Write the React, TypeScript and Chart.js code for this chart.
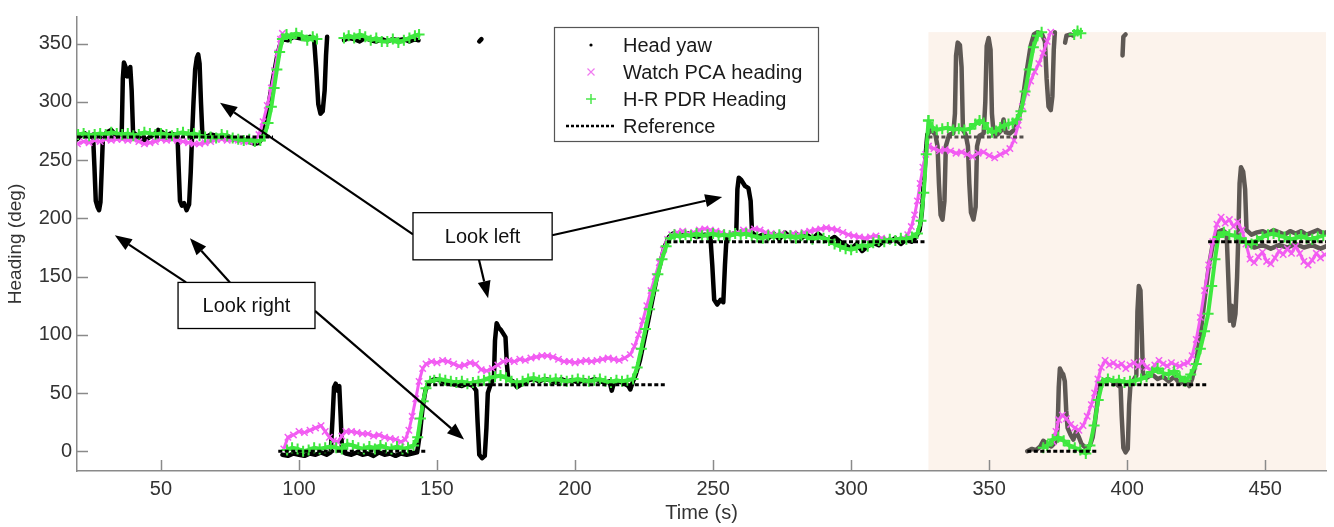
import React, { useEffect, useRef } from "react";
import { Chart, registerables } from "chart.js";

Chart.register(...registerables);

type P = [number, number];

// ---------- axes ----------
const X_MIN = 19.6;
const X_MAX = 472;
const Y_MIN = -17;
const Y_MAX = 373;
const xTickValues = [50, 100, 150, 200, 250, 300, 350, 400, 450];
const yTickValues = [0, 50, 100, 150, 200, 250, 300, 350];
const shadeStart = 328; // s
const shadeTop = 360; // deg

// ---------- Head yaw (black, before shaded part) ----------
const headYawA: P[] = [[19.6,268],[21,271],[22.5,273],[24,270],[25.4,272],[25.9,245],[26.4,215],[27,210],[27.6,207],[28.1,214],[28.6,245],[29,271],[30.5,274],[32,276],[33.5,272],[35,271],[35.8,274],[36.2,320],[36.6,334],[37.2,330],[37.8,322],[38.4,328],[38.9,330],[39.4,310],[39.9,274],[41.5,271],[43,268],[44.5,267],[46,270],[47.5,272],[49,276],[50.5,274],[52,271],[53.5,273],[55,272],[56,271],[56.4,245],[56.9,215],[57.6,211],[58.4,213],[59.3,207],[60.2,212],[60.8,240],[61.3,272],[61.8,300],[62.4,328],[63,338],[63.5,341],[64,333],[64.5,300],[65,273],[66.5,270],[68,272],[70,271],[72,270],[74,271],[76,268],[78,267],[80,268],[82,266],[84,264],[85.5,265],[87,270],[88,282],[89,298],[90,312],[91,325],[92,338],[93,348],[94,354],[96,353],[98,356],[100,355],[102,354],[104,356],[105.5,353],[106.2,330],[107,298],[107.8,290],[108.6,292],[109.3,310],[109.8,340],[110.2,356]];
const headYawB: P[] = [[116.3,353],[118,355],[120,354],[122,352],[124,355],[126,353],[128,352],[130,354],[132,352],[134,354],[136,353],[138,354],[140,352],[142,354],[143.3,353]];
const headYawBlip: P[] = [[165.3,352],[166.1,354]];
const headYawC: P[] = [[94,-3],[96,-4],[98,-2],[100,-3],[102,-4],[104,-2],[106,-3],[108,-1],[110,-3],[111.5,-1],[112.2,30],[112.7,55],[113.3,58],[114,52],[114.6,56],[115.1,30],[115.6,0],[117,-2],[119,-3],[121,-1],[123,-3],[125,-2],[127,-4],[129,-1],[131,-3],[133,-2],[135,-4],[137,-2],[139,-3],[141,-2],[142.8,-1],[143.8,15],[144.8,38],[145.8,52],[147,59],[149,62],[151,61],[153,59],[155,58],[157,57],[159,56],[161,58],[163,56],[164.2,52],[164.7,25],[165.3,-3],[166.3,-6],[167.3,-4],[167.9,20],[168.4,50],[169.5,58],[170.6,62],[171,95],[171.6,110],[172.4,106],[173.2,104],[174,101],[174.8,98],[175.3,75],[175.8,62],[177.5,60],[179,55],[181,58],[183,61],[185,62],[187,60],[189,62],[191,61],[193,59],[195,62],[197,60],[199,61],[201,59],[203,61],[205,60],[207,62],[209,60],[211,59],[212.5,60],[213.3,52],[214,58],[216,60],[218,58],[219.3,56],[220,53],[221,60],[222,66],[223.5,78],[225,95],[226.5,112],[228,130],[229.5,148],[231,163],[232.5,176],[234,184],[235.5,187],[238,185],[241,187],[244,184],[247,186],[249,185],[249.7,160],[250.4,130],[251.5,126],[252.7,130],[253.7,128],[254.3,160],[254.9,185],[256.5,186],[258.4,188],[258.8,225],[259.3,235],[260.2,233],[261.5,228],[262.8,226],[263.6,215],[264.1,188],[266,184],[268,186],[270,183],[272,187],[274,182],[276,188],[278,184],[280,187],[282,183],[284,186],[286,182],[288,187],[290,183],[292,181],[294,184],[296,180],[298,177],[300,174],[302,178],[304,172],[306,176],[308,179],[310,177],[312,181],[314,180],[316,183],[318,178],[320,182],[322,180],[323.5,184],[324.8,190],[325.6,205],[326.3,230],[327,255],[327.6,272]];

// ---------- Head yaw (grey, shaded part) ----------
const headYawD: P[] = [[327.6,272],[329,276],[330.5,272],[331.3,262],[331.8,230],[332.4,203],[333.1,199],[333.8,215],[334.3,262],[335.5,272],[337,273],[337.6,290],[338,340],[338.6,351],[339.4,349],[340,330],[340.5,276],[341.5,272],[342.3,262],[342.8,230],[343.4,205],[344.3,199],[345.1,210],[345.6,262],[346.5,271],[348,273],[348.6,300],[349.1,348],[349.8,355],[350.5,345],[351,290],[351.6,273],[353,272],[354.5,276],[355.2,285],[356,274],[357.5,273],[359,276],[360.5,283],[362,300],[363.5,325],[365,348],[366.2,358],[367.5,360],[369,359],[370.2,352],[370.8,320],[371.5,296],[372.3,293],[372.9,305],[373.4,345],[373.8,360]];
const headYawE1: P[] = [[377.5,351],[378,357],[379.5,358],[380.5,357]];
const headYawE2: P[] = [[398.3,340],[398.6,356],[399.4,358]];
const headYawF: P[] = [[363.8,0],[365.5,2],[367,1],[368.5,4],[369.6,9],[371,6],[372.5,4],[374,8],[374.8,20],[375.2,55],[375.6,71],[376.2,68],[376.8,66],[377.4,60],[377.9,35],[378.4,20],[379.5,14],[380.5,10],[381.5,17],[382.5,12],[383.5,6],[385,3],[386.5,5],[387.5,12],[388.3,25],[389.2,42],[390,54],[391,60],[393,62],[395,60],[396.5,57],[397.6,55],[398,30],[398.6,3],[399.4,-1],[400.2,2],[400.7,40],[401.2,58],[402.5,62],[403.3,65],[403.7,120],[404.2,142],[404.8,138],[405.3,100],[405.7,66],[407,63],[409,66],[411,62],[413,64],[415,60],[417,64],[419,58],[421,62],[422.5,56],[423.5,62],[425,78],[426.5,100],[428,130],[429.5,158],[431,178],[432.5,188],[434.5,190],[436,187],[436.6,150],[437.2,112],[437.8,125],[438.5,108],[439.2,118],[439.8,150],[440.3,190],[440.7,230],[441.2,244],[442,240],[442.7,225],[443.2,190],[445,186],[447,188],[449,189],[451,187],[453,190],[455,188],[457,186],[459,189],[461,187],[463,189],[465,186],[467,188],[469,190],[471,187],[472,188]];
const headYawG: P[] = [[443.5,178],[446,175],[449,177],[452,174],[455,177],[458,175],[461,178],[464,175],[467,177],[470,174],[472,176]];

// ---------- Watch PCA heading (magenta) ----------
const pcaA: P[] = [[19.8,264],[22,266],[24,265],[26,267],[28,266],[30,268],[32,267],[34,268],[36,268],[38,267],[40,268],[42,266],[44,264],[46,265],[48,266],[50,268],[52,267],[54,268],[56,267],[58,266],[60,265],[62,264],[64,264],[66,265],[68,266],[70,268],[72,268],[74,267],[76,268],[78,267],[80,266],[82,266],[84,267],[85.5,272],[87,283],[88.5,297],[90,312],[91.2,327],[92.3,342],[93.3,354],[94,359]];
const pcaB: P[] = [[94.5,2],[96,12],[98,14],[100,17],[102,16],[104,18],[106,20],[108,22],[109.5,17],[111,12],[112.5,9],[114,8],[115.5,13],[117,17],[119,17],[121,16],[123,15],[125,15],[127,13],[129,14],[131,12],[133,11],[135,10],[137,8],[138.5,10],[139.8,18],[141,30],[142.3,45],[143.5,60],[144.8,71],[146,75],[148,77],[150,76],[152,78],[154,77],[156,75],[158,73],[160,74],[162,76],[164,75],[166,70],[168,69],[170,71],[172,74],[174,77],[176,78],[178,77],[180,79],[182,78],[184,80],[186,81],[188,82],[190,82],[192,81],[194,79],[196,77],[198,77],[200,76],[202,77],[204,78],[206,77],[208,78],[210,79],[212,80],[214,79],[216,78],[218,80],[220,83],[221.5,90],[223,100],[224.5,112],[226,125],[227.5,138],[229,150],[230.5,162],[232,173],[233.5,182],[235,186],[237,188],[239,189],[241,187],[243,188],[245,190],[247,191],[249,190],[251,189],[253,188],[255,186],[257,187],[259,188],[261,190],[263,189],[265,191],[267,190],[269,188],[271,187],[273,186],[275,187],[277,185],[279,187],[281,186],[283,188],[285,189],[287,190],[289,191],[291,192],[293,191],[295,190],[297,188],[299,186],[301,185],[303,184],[305,183],[307,184],[309,185],[311,183],[313,182],[315,181],[317,182],[319,183],[320.5,186],[321.8,193],[323,203],[324,215],[325,230],[326,244],[327,255],[328,262]];
const pcaC: P[] = [[328,262],[330,260],[332,258],[334,259],[336,258],[338,256],[340,257],[342,255],[344,253],[346,256],[348,257],[350,254],[352,252],[354,255],[356,257],[357.5,260],[359,267],[360.5,280],[362,296],[363.5,308],[365,318],[366.5,326],[368,333],[369.5,342],[371,352],[372.3,360]];
const pcaD: P[] = [[373.2,8],[374.2,17],[375.2,27],[376.5,31],[378,28],[379.5,23],[381,20],[382.5,18],[384,22],[385.5,30],[387,40],[388.2,50],[389.4,62],[390.6,72],[392,78],[393.5,74],[395,76],[396.5,73],[398,75],[399.5,71],[401,74],[402.5,76],[404,73],[405.5,77],[407,72],[408.5,70],[410,74],[411.5,78],[413,75],[414.5,73],[416,76],[417.5,74],[419,73],[420.5,75],[422,76],[423.5,82],[425,96],[426.5,115],[428,138],[429.5,160],[431,180],[432.5,195],[434,201],[435.5,196],[437,199],[438.5,193],[440,197],[441.5,190],[443,178],[444.5,165],[446,162],[447.5,167],[449,171],[450.5,163],[452,161],[453.5,166],[455,172],[456.5,169],[458,174],[459.5,170],[461,176],[462.5,170],[464,163],[465.5,160],[467,164],[468.5,170],[470,166],[471.5,169]];

// ---------- H-R PDR heading (green) ----------
const pdrA: P[] = [[20,272],[22,273],[24,271],[26,272],[28,273],[30,272],[32,274],[34,273],[36,272],[38,273],[40,271],[42,272],[44,274],[46,273],[48,272],[50,273],[52,272],[54,271],[56,273],[58,274],[60,272],[62,273],[64,271],[66,270],[68,270],[70,269],[72,272],[74,271],[76,269],[78,268],[80,267],[82,268],[84,266],[86,267],[87.5,271],[88.8,282],[90,296],[91,312],[92,328],[93,343],[94,354],[95.5,358],[97,355],[99,359],[101,357],[103,353],[105,356],[106.5,354]];
const pdrB: P[] = [[116.3,355],[118,357],[120,355],[122,358],[124,356],[126,353],[128,355],[130,352],[132,352],[134,354],[136,351],[138,353],[140,355],[142,357],[143.5,358]];
const pdrC: P[] = [[95.7,1],[97.5,3],[99.5,2],[101.5,0],[103.5,1],[105.5,3],[107.5,2],[109.5,3],[111.5,4],[113.5,3],[115.5,2],[117.5,6],[119.5,5],[121.5,3],[123.5,2],[125.5,4],[127.5,2],[129.5,5],[131.5,3],[133.5,2],[135.5,4],[137.5,2],[139.5,3],[141.5,5],[143,12],[144,28],[145,43],[146,54],[147.5,60],[149,61],[151,62],[153,61],[155,60],[157,59],[159,60],[161,58],[163,59],[165,60],[167,61],[169,63],[171,64],[173,65],[175,63],[177,60],[179,58],[181,60],[183,62],[185,63],[187,61],[189,62],[191,61],[193,62],[195,61],[197,60],[199,61],[201,62],[203,61],[205,60],[207,61],[209,62],[211,60],[213,59],[215,61],[217,60],[219,61],[221,62],[222.5,72],[224,88],[225.5,105],[227,122],[228.5,138],[230,152],[231.5,165],[233,176],[234.5,183],[236,186],[238,184],[240,186],[242,185],[244,187],[246,185],[248,186],[250,187],[252,185],[254,186],[256,185],[258,187],[260,186],[262,187],[264,185],[266,184],[268,183],[270,185],[272,184],[274,186],[276,184],[278,185],[280,183],[282,185],[284,184],[286,182],[288,184],[290,183],[292,181],[294,178],[296,176],[298,174],[300,173],[302,175],[304,177],[306,176],[308,179],[310,181],[312,180],[314,182],[316,181],[318,183],[320,182],[322,184],[324,187],[325.3,198],[326.3,222],[327.2,255],[328,284]];
const pdrD: P[] = [[328,284],[329.5,278],[331,276],[333,277],[335,278],[337,276],[339,277],[341,276],[343,277],[345,281],[346.5,284],[348,282],[349.5,277],[351,274],[352.5,275],[354,278],[355.5,280],[357,281],[358.5,282],[360,285],[361.5,292],[363,309],[364.5,328],[366,347],[367.5,357],[369,360]];
const pdrE: P[] = [[380.8,358],[382,361],[383.2,359]];
const pdrF: P[] = [[369.6,3],[371,5],[373,10],[375,12],[377,9],[379,5],[381,3],[383,1],[385,-2],[386.5,5],[388,22],[389.5,44],[391,59],[393,62],[395,60],[397,61],[399,59],[401,60],[403,61],[405,62],[407,64],[409,68],[411,71],[413,67],[415,66],[417,69],[419,64],[421,60],[423,66],[425,75],[426.5,88],[428,103],[429.3,118],[430.6,142],[431.8,165],[433,184],[435,188],[437,186],[439,185],[441,183],[443,179],[445,178],[447,181],[449,184],[451,186],[453,187],[455,185],[457,184],[459,182],[461,183],[463,185],[465,183],[467,182],[469,184],[471,185]];

// ---------- Reference (dashed) ----------
const ref1: P[] = [[19.6,270],[90.6,270]];
const ref2: P[] = [[92.5,0],[145.8,0]];
const ref3: P[] = [[146.3,57],[232.5,57]];
const ref4: P[] = [[233.3,180],[326.8,180]];
const ref5: P[] = [[328,270],[362.5,270]];
const ref6: P[] = [[363.8,0],[389,0]];
const ref7: P[] = [[389.5,57],[429,57]];
const ref8: P[] = [[429.3,180],[472,180]];

// ---------- annotations (data coordinates) ----------
const lookLeftBox = { t0: 141.3, t1: 191.7, v0: 164.4, v1: 204.9, label: "Look left" };
const lookRightBox = { t0: 56.2, t1: 105.8, v0: 105.4, v1: 145.0, label: "Look right" };
const arrows: [number, number, number, number][] = [
  [141.3, 186.3, 71.4, 299.3],
  [191.7, 185.5, 253.3, 218.4],
  [165.2, 164.4, 168.5, 131.5],
  [59.1, 145.0, 33.3, 185.5],
  [75.0, 145.0, 60.5, 183.0],
  [105.8, 120.6, 159.8, 10.1],
];

const FONT = '"Liberation Sans", Arial, Helvetica, sans-serif';
const BLACK = "#000000";
const GREY_YAW = "#5e5854";
const MAGENTA = "#f25cf2";
const GREEN = "#3fe83f";

const toXY = (pts: P[]) => pts.map(([x, y]) => ({ x, y }));

const refStyle = (color: string) => ({
  borderColor: color, borderWidth: 3, borderDash: [4, 2.5], pointRadius: 0, showLine: true, tension: 0,
});
const pdrStyle = {
  borderColor: GREEN, borderWidth: 4, showLine: true, tension: 0, borderJoinStyle: "round",
  pointStyle: "cross", pointRadius: 5.5, pointBorderWidth: 2, pointBorderColor: GREEN, pointBackgroundColor: GREEN,
};
const pcaStyle = {
  borderColor: MAGENTA, borderWidth: 3, showLine: true, tension: 0, borderJoinStyle: "round",
  pointStyle: "crossRot", pointRadius: 4.5, pointBorderWidth: 1.5, pointBorderColor: MAGENTA, pointBackgroundColor: MAGENTA,
};
const yawStyle = (color: string) => ({
  borderColor: color, borderWidth: 4.5, pointRadius: 0, showLine: true, tension: 0,
  borderJoinStyle: "round", borderCapStyle: "round",
});

const shadePlugin = {
  id: "shade",
  beforeDatasetsDraw(chart: any) {
    const { ctx, chartArea, scales } = chart;
    const x = scales.x, y = scales.y;
    const left = x.getPixelForValue(shadeStart);
    const top = y.getPixelForValue(shadeTop);
    ctx.save();
    ctx.fillStyle = "#fcf3ec";
    ctx.fillRect(left, top, chartArea.right - left, chartArea.bottom - 1 - top);
    // inward tick marks
    ctx.strokeStyle = "#8a8a8a";
    ctx.lineWidth = 1.5;
    ctx.beginPath();
    xTickValues.forEach((v) => {
      const px = Math.round(x.getPixelForValue(v)) + 0.5;
      ctx.moveTo(px, chartArea.bottom);
      ctx.lineTo(px, chartArea.bottom - 11);
    });
    yTickValues.forEach((v) => {
      const py = Math.round(y.getPixelForValue(v)) + 0.5;
      ctx.moveTo(chartArea.left, py);
      ctx.lineTo(chartArea.left + 11, py);
    });
    ctx.stroke();
    ctx.restore();
  },
};

const annotationPlugin = {
  id: "annot",
  afterDatasetsDraw(chart: any) {
    const { ctx, scales } = chart;
    const x = scales.x, y = scales.y;
    ctx.save();
    ctx.strokeStyle = "#000";
    ctx.fillStyle = "#000";
    ctx.lineWidth = 2.2;
    arrows.forEach(([t0, v0, t1, v1]) => {
      const x0 = x.getPixelForValue(t0), y0 = y.getPixelForValue(v0);
      const x1 = x.getPixelForValue(t1), y1 = y.getPixelForValue(v1);
      const ang = Math.atan2(y1 - y0, x1 - x0);
      const L = 17, W = 6.5;
      const bx = x1 - L * Math.cos(ang), by = y1 - L * Math.sin(ang);
      ctx.beginPath();
      ctx.moveTo(x0, y0);
      ctx.lineTo(bx, by);
      ctx.stroke();
      ctx.beginPath();
      ctx.moveTo(x1, y1);
      ctx.lineTo(bx + W * Math.sin(ang), by - W * Math.cos(ang));
      ctx.lineTo(bx - W * Math.sin(ang), by + W * Math.cos(ang));
      ctx.closePath();
      ctx.fill();
    });
    [lookLeftBox, lookRightBox].forEach((b) => {
      const l = x.getPixelForValue(b.t0), r = x.getPixelForValue(b.t1);
      const t = y.getPixelForValue(b.v1), bt = y.getPixelForValue(b.v0);
      ctx.fillStyle = "#fff";
      ctx.fillRect(l, t, r - l, bt - t);
      ctx.strokeStyle = "#000";
      ctx.lineWidth = 1.3;
      ctx.strokeRect(l, t, r - l, bt - t);
      ctx.fillStyle = "#111";
      ctx.font = `20px ${FONT}`;
      ctx.textAlign = "center";
      ctx.textBaseline = "middle";
      ctx.fillText(b.label, (l + r) / 2, (t + bt) / 2 + 1);
    });
    ctx.restore();
  },
};

const legendPlugin = {
  id: "customLegend",
  afterDraw(chart: any) {
    const { ctx } = chart;
    const bx = 554, by = 27, bw = 264, bh = 114;
    ctx.save();
    ctx.fillStyle = "#fff";
    ctx.fillRect(bx, by, bw, bh);
    ctx.strokeStyle = "#555";
    ctx.lineWidth = 1.2;
    ctx.strokeRect(bx + 0.5, by + 0.5, bw, bh);
    const mx = 591, tx = 623;
    const rows = [45, 72, 99, 126];
    const labels = ["Head yaw", "Watch PCA heading", "H-R PDR Heading", "Reference"];
    ctx.fillStyle = "#000";
    ctx.beginPath();
    ctx.arc(mx, rows[0], 1.6, 0, Math.PI * 2);
    ctx.fill();
    ctx.strokeStyle = "#f07af0";
    ctx.lineWidth = 1.2;
    ctx.beginPath();
    ctx.moveTo(mx - 3.5, rows[1] - 3.5); ctx.lineTo(mx + 3.5, rows[1] + 3.5);
    ctx.moveTo(mx + 3.5, rows[1] - 3.5); ctx.lineTo(mx - 3.5, rows[1] + 3.5);
    ctx.stroke();
    ctx.strokeStyle = "#4be84b";
    ctx.lineWidth = 1.5;
    ctx.beginPath();
    ctx.moveTo(mx - 5, rows[2]); ctx.lineTo(mx + 5, rows[2]);
    ctx.moveTo(mx, rows[2] - 5); ctx.lineTo(mx, rows[2] + 5);
    ctx.stroke();
    ctx.strokeStyle = "#000";
    ctx.lineWidth = 2.5;
    ctx.setLineDash([3, 2]);
    ctx.beginPath();
    ctx.moveTo(566, rows[3]); ctx.lineTo(615, rows[3]);
    ctx.stroke();
    ctx.setLineDash([]);
    ctx.fillStyle = "#1a1a1a";
    ctx.font = `20px ${FONT}`;
    ctx.textAlign = "left";
    ctx.textBaseline = "middle";
    labels.forEach((s, i) => ctx.fillText(s, tx, rows[i] + 1));
    ctx.restore();
  },
};

export default function App() {
  const ref = useRef<HTMLCanvasElement | null>(null);
  useEffect(() => {
    if (!ref.current) return;
    const datasets: any[] = [
      ...[ref1, ref2, ref3, ref4, ref6, ref7, ref8].map((s) => ({ data: toXY(s), ...refStyle(BLACK) })),
      { data: toXY(ref5), ...refStyle("#55504c") },
      ...[pdrA, pdrB, pdrC, pdrD, pdrE, pdrF].map((s) => ({ data: toXY(s), ...pdrStyle })),
      ...[pcaA, pcaB, pcaC, pcaD].map((s) => ({ data: toXY(s), ...pcaStyle })),
      ...[headYawA, headYawB, headYawBlip, headYawC].map((s) => ({ data: toXY(s), ...yawStyle(BLACK) })),
      ...[headYawD, headYawE1, headYawE2, headYawF, headYawG].map((s) => ({ data: toXY(s), ...yawStyle(GREY_YAW) })),
    ];
    const chart = new Chart(ref.current, {
      type: "scatter",
      data: { datasets },
      options: {
        animation: false,
        responsive: false,
        devicePixelRatio: 1,
        events: [],
        layout: { padding: { left: 0, right: 8, top: 9, bottom: 0 } },
        plugins: { legend: { display: false }, tooltip: { enabled: false } },
        scales: {
          x: {
            type: "linear",
            min: X_MIN,
            max: X_MAX,
            grid: { display: false, drawTicks: false },
            border: { display: true, color: "#8a8a8a", width: 1.5 },
            ticks: { font: { family: FONT, size: 20 }, color: "#333", padding: 6, maxRotation: 0, autoSkip: false },
            afterBuildTicks: (s: any) => { s.ticks = xTickValues.map((value) => ({ value })); },
            afterFit: (s: any) => { s.height = 56; },
            title: { display: true, text: "Time (s)", font: { family: FONT, size: 20 }, color: "#333", padding: { top: 0, bottom: 2 } },
          },
          y: {
            type: "linear",
            min: Y_MIN,
            max: Y_MAX,
            grid: { display: false, drawTicks: false },
            border: { display: true, color: "#8a8a8a", width: 1.5 },
            ticks: { font: { family: FONT, size: 20 }, color: "#333", padding: 5, autoSkip: false },
            afterBuildTicks: (s: any) => { s.ticks = yTickValues.map((value) => ({ value })); },
            afterFit: (s: any) => { s.width = 77; },
            title: { display: true, text: "Heading (deg)", font: { family: FONT, size: 19 }, color: "#333", padding: { top: 4, bottom: 0 } },
          },
        },
      } as any,
      plugins: [shadePlugin, annotationPlugin, legendPlugin],
    });
    return () => chart.destroy();
  }, []);
  return (
    <div style={{ position: "fixed", left: 0, top: 0, width: 1334, height: 527, background: "#fff" }}>
      <canvas ref={ref} width={1334} height={527} style={{ width: 1334, height: 527, display: "block" }} />
    </div>
  );
}
